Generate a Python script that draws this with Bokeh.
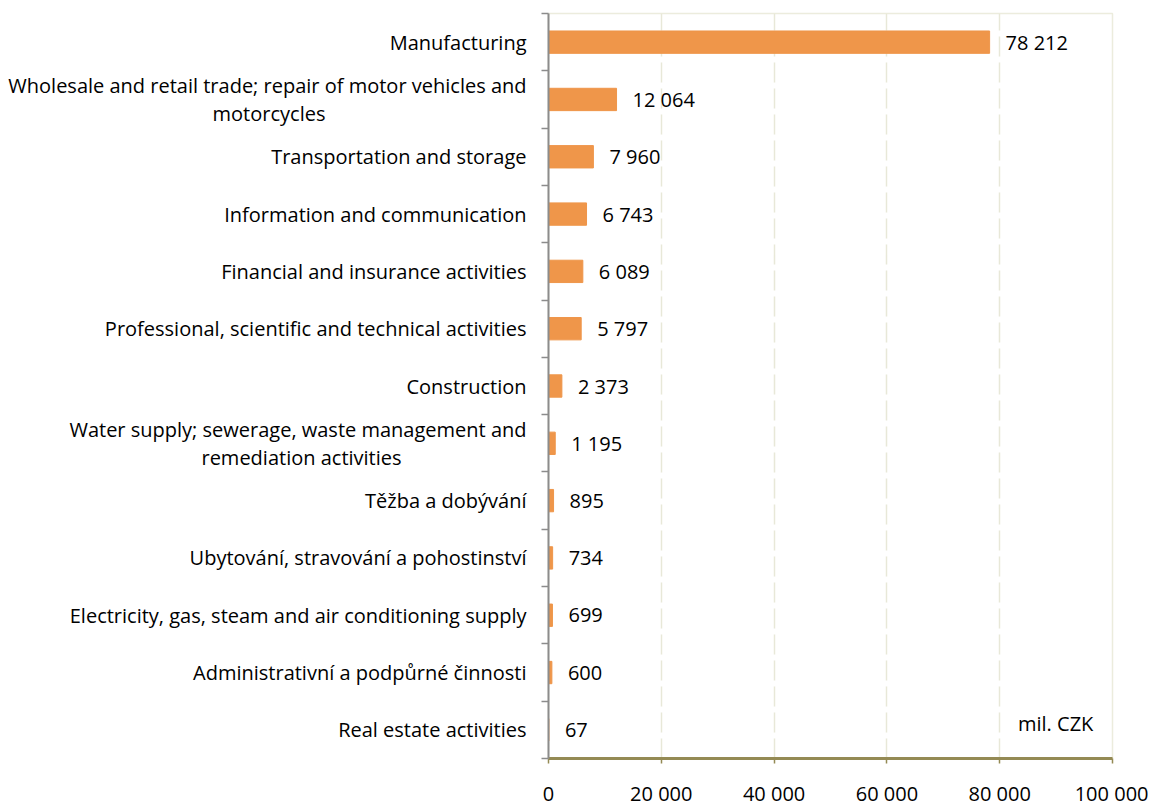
from bokeh.plotting import figure
from bokeh.models import Range1d, FixedTicker, Label, ColumnDataSource
from bokeh.layouts import row
from bokeh.embed import file_html
from bokeh.resources import INLINE
from bokeh.core.properties import value

categories = [
    "Manufacturing",
    "Wholesale and retail trade; repair of motor vehicles and\nmotorcycles",
    "Transportation and storage",
    "Information and communication",
    "Financial and insurance activities",
    "Professional, scientific and technical activities",
    "Construction",
    "Water supply; sewerage, waste management and\nremediation activities",
    "Těžba a dobývání",
    "Ubytování, stravování a pohostinství",
    "Electricity, gas, steam and air conditioning supply",
    "Administrativní a podpůrné činnosti",
    "Real estate activities",
]
values = [78212, 12064, 7960, 6743, 6089, 5797, 2373, 1195, 895, 734, 699, 600, 67]
x_ticks = [0, 20000, 40000, 60000, 80000, 100000]
x_tick_labels = ["0", "20 000", "40 000", "60 000", "80 000", "100 000"]
unit_label = "mil. CZK"

FONT = "Open Sans"
FS = "20px"
n = len(categories)
ys = [n - i - 0.5 for i in range(n)]
val_text = [f"{v:,}".replace(",", " ") for v in values]

H = 809
TOP = 13
BOT = 48
LEFT_W = 528

y_range = Range1d(0, n)
src = ColumnDataSource(dict(y=ys, v=values, t=val_text))

# ---- left figure: category labels ----
lf = figure(width=LEFT_W, height=H, output_backend="svg", toolbar_location=None,
            x_range=Range1d(0, LEFT_W), y_range=y_range,
            x_axis_location=None, y_axis_location=None,
            min_border_left=0, min_border_right=0, min_border_top=TOP, min_border_bottom=BOT)
lf.outline_line_color = None
lf.grid.grid_line_color = None
RIGHT_EDGE = 526
line1_width = {1: 515, 7: 450}
lx, ly, lt, la, lyo = [], [], [], [], []
for i, (cat, y) in enumerate(zip(categories, ys)):
    lines = cat.split("\n")
    if len(lines) == 1:
        lx.append(RIGHT_EDGE); ly.append(y); lt.append(lines[0]); la.append("right"); lyo.append(0)
    else:
        w = line1_width.get(i, 480)
        lx.append(RIGHT_EDGE); ly.append(y); lt.append(lines[0]); la.append("right"); lyo.append(-14)
        lx.append(RIGHT_EDGE - w / 2); ly.append(y); lt.append(lines[1]); la.append("center"); lyo.append(14)
lsrc = ColumnDataSource(dict(x=lx, y=ly, t=lt, a=la, yo=lyo))
lf.text(x="x", y="y", text="t", source=lsrc, text_align="a", y_offset="yo",
        text_baseline="middle", text_font=value(FONT), text_font_size=FS, text_color="#000000")

# ---- main figure ----
p = figure(width=620, height=H, output_backend="svg", toolbar_location=None,
           x_range=Range1d(0, 100000), y_range=y_range,
           min_border_left=20, min_border_right=36, min_border_top=TOP, min_border_bottom=BOT)
p.outline_line_color = "#ECECDD"
p.outline_line_width = 1.5

p.hbar(y="y", right="v", left=0, height=0.39, source=src, fill_color="#EF964A",
       line_color="#EF964A", line_width=1)
p.text(x="v", y="y", text="t", source=src, x_offset=16, text_align="left",
       text_baseline="middle", text_font=value(FONT), text_font_size=FS, text_color="#000000")

xa = p.xaxis[0]
xa.ticker = FixedTicker(ticks=x_ticks)
xa.major_label_overrides = {t: l for t, l in zip(x_ticks, x_tick_labels)}
xa.axis_line_color = "#948A54"
xa.axis_line_width = 3
xa.major_tick_line_color = "#948A54"
xa.major_tick_line_width = 1.5
xa.major_tick_out = 5
xa.major_tick_in = 0
xa.minor_tick_line_color = None
xa.major_label_standoff = 16
xa.major_label_text_font = FONT
xa.major_label_text_font_size = FS
xa.major_label_text_color = "#000000"

ya = p.yaxis[0]
ya.ticker = FixedTicker(ticks=list(range(n + 1)))
ya.axis_line_color = "#8C8C8C"
ya.axis_line_width = 2
ya.major_tick_line_color = "#8C8C8C"
ya.major_tick_line_width = 1.5
ya.major_tick_out = 7
ya.major_tick_in = 0
ya.minor_tick_line_color = None
ya.major_label_standoff = 0
ya.major_label_text_font_size = "0px"
ya.major_label_text_color = None

p.xgrid.ticker = FixedTicker(ticks=x_ticks[1:-1])
p.xgrid.grid_line_color = "#E8E8D8"
p.xgrid.grid_line_dash = "20 6"
p.xgrid.grid_line_width = 1.5
p.ygrid.grid_line_color = None

p.add_layout(Label(x=96600, y=0.61, text=unit_label, text_align="right", text_baseline="middle",
                   text_font=FONT, text_font_size=FS, text_color="#000000"))

layout = row(lf, p, spacing=0)
open("out.html", "w").write(file_html(layout, INLINE))
